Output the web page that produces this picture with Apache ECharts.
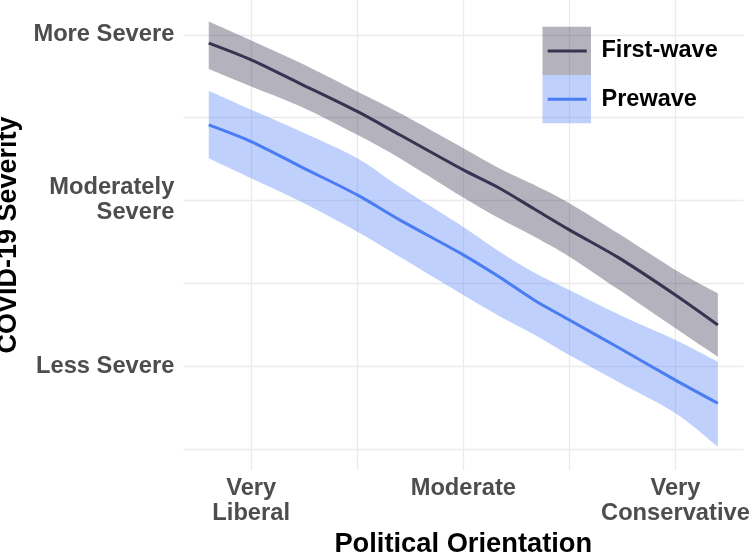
<!DOCTYPE html>
<html>
<head>
<meta charset="utf-8">
<script src="https://cdn.jsdelivr.net/npm/echarts@6/dist/echarts.min.js"></script>
<style>
  html, body { margin: 0; padding: 0; background: #ffffff; }
  #chart { width: 750px; height: 554px; }
</style>
</head>
<body>
<div id="chart"></div>
<script>
// ---- Data ----
const xValues = [0.4, 1.0, 1.7, 2.5, 3.1, 4.0, 4.5, 5.0, 5.5, 6.2, 7.0, 7.6];

const firstWaveMid   = [2.950, 2.849, 2.704, 2.537, 2.396, 2.184, 2.076, 1.949, 1.822, 1.653, 1.429, 1.248];
const firstWaveUpper = [3.080, 2.966, 2.829, 2.657, 2.527, 2.315, 2.196, 2.094, 1.983, 1.798, 1.580, 1.439];
const firstWaveLower = [2.793, 2.688, 2.567, 2.396, 2.255, 2.018, 1.894, 1.782, 1.660, 1.460, 1.228, 1.056];

const prewaveMid   = [2.456, 2.355, 2.204, 2.033, 1.882, 1.671, 1.540, 1.399, 1.278, 1.110, 0.915, 0.775];
const prewaveUpper = [2.662, 2.547, 2.416, 2.255, 2.082, 1.840, 1.695, 1.565, 1.459, 1.311, 1.157, 1.026];
const prewaveLower = [2.255, 2.134, 1.993, 1.811, 1.660, 1.429, 1.304, 1.190, 1.066, 0.902, 0.714, 0.512];

const xTickValues = [1, 4, 7];
const xTickLabels = ['Very\nLiberal', 'Moderate', 'Very\nConservative'];
const yTickValues = [1, 2, 3];
const yTickLabels = ['Less Severe', 'Moderately\nSevere', 'More Severe'];
const xGridValues = [1, 2.5, 4, 5.5, 7];
const yGridValues = [0.5, 1, 1.5, 2, 2.5, 3];

const seriesNames = ['First-wave', 'Prewave'];
const xAxisTitle = 'Political Orientation';
const yAxisTitle = 'COVID-19 Severity';

// ---- Styles ----
const FONT = '"Liberation Sans", Arial, Helvetica, sans-serif';
const greyLine = '#3a3350';
const greyBand = 'rgba(59,52,82,0.38)';
const blueLine = '#4a7cf3';
const blueBand = 'rgba(74,124,243,0.36)';
const gridColor = '#ebebeb';

const zip = (xs, ys) => xs.map((x, i) => [x, ys[i]]);

const chart = echarts.init(document.getElementById('chart'), null, { renderer: 'canvas' });

const gridMarkData = xGridValues.map(v => ({ xAxis: v })).concat(yGridValues.map(v => ({ yAxis: v })));

// Smooth (Catmull-Rom) path segment through pixel points, starting after the first point
function curveThrough(pts) {
  let d = '';
  const k = 0.5 / 3;
  for (let i = 0; i < pts.length - 1; i++) {
    const p0 = pts[Math.max(i - 1, 0)], p1 = pts[i], p2 = pts[i + 1], p3 = pts[Math.min(i + 2, pts.length - 1)];
    const c1x = p1[0] + (p2[0] - p0[0]) * k, c1y = p1[1] + (p2[1] - p0[1]) * k;
    const c2x = p2[0] - (p3[0] - p1[0]) * k, c2y = p2[1] - (p3[1] - p1[1]) * k;
    d += ' C' + c1x + ' ' + c1y + ' ' + c2x + ' ' + c2y + ' ' + p2[0] + ' ' + p2[1];
  }
  return d;
}

function ribbon(upper, lower, fill) {
  return function (params, api) {
    const top = xValues.map((x, i) => api.coord([x, upper[i]]));
    const bot = xValues.map((x, i) => api.coord([x, lower[i]])).reverse();
    const d = 'M' + top[0][0] + ' ' + top[0][1] + curveThrough(top) +
              ' L' + bot[0][0] + ' ' + bot[0][1] + curveThrough(bot) + ' Z';
    return {
      type: 'path',
      shape: { pathData: d, layout: 'center' },
      style: { fill: fill }
    };
  };
}

chart.setOption({
  animation: false,
  backgroundColor: '#ffffff',
  grid: { left: 183.3, right: 6.7, top: 0, bottom: 84, containLabel: false, outerBoundsMode: 'none' },
  xAxis: {
    type: 'value',
    min: 0.04, max: 7.96,
    axisLine: { show: false },
    axisTick: { show: false },
    splitLine: { show: false },
    axisLabel: {
      customValues: xTickValues,
      formatter: v => { const i = xTickValues.indexOf(v); return i >= 0 ? xTickLabels[i] : ''; },
      color: '#4d4d4d', fontFamily: FONT, fontWeight: 'bold', fontSize: 23.7, lineHeight: 25,
      margin: 6, align: 'center'
    },
    name: xAxisTitle,
    nameLocation: 'middle',
    nameGap: 59,
    nameTextStyle: { color: '#000000', fontFamily: FONT, fontWeight: 'bold', fontSize: 27.3 }
  },
  yAxis: {
    type: 'value',
    min: 0.372, max: 3.21,
    axisLine: { show: false },
    axisTick: { show: false },
    splitLine: { show: false },
    axisLabel: {
      customValues: yTickValues,
      formatter: v => { const i = yTickValues.indexOf(v); return i >= 0 ? yTickLabels[i] : ''; },
      color: '#4d4d4d', fontFamily: FONT, fontWeight: 'bold', fontSize: 23.7, lineHeight: 25,
      margin: 9, align: 'right'
    },
    name: yAxisTitle,
    nameLocation: 'middle',
    nameGap: 155,
    nameTextStyle: { color: '#000000', fontFamily: FONT, fontWeight: 'bold', fontSize: 27 }
  },
  series: [
    {
      name: seriesNames[0] + ' band', type: 'custom', silent: true, z: 1, clip: true,
      renderItem: ribbon(firstWaveUpper, firstWaveLower, greyBand),
      data: [[xValues[0], firstWaveUpper[0]]],
      markLine: {
        silent: true, symbol: ['none', 'none'], label: { show: false }, animation: false,
        lineStyle: { color: gridColor, width: 1.3, type: 'solid' },
        emphasis: { disabled: true },
        data: gridMarkData,
        z: 0
      }
    },
    {
      name: seriesNames[1] + ' band', type: 'custom', silent: true, z: 1, clip: true,
      renderItem: ribbon(prewaveUpper, prewaveLower, blueBand),
      data: [[xValues[0], prewaveUpper[0]]]
    },
    {
      name: seriesNames[0], type: 'line', z: 3, smooth: 0.3,
      data: zip(xValues, firstWaveMid), showSymbol: false, symbol: 'none',
      lineStyle: { color: greyLine, width: 3 }
    },
    {
      name: seriesNames[1], type: 'line', z: 3, smooth: 0.3,
      data: zip(xValues, prewaveMid), showSymbol: false, symbol: 'none',
      lineStyle: { color: blueLine, width: 3 }
    }
  ],
  graphic: [
    { type: 'rect', left: 542.5, top: 26.7, shape: { width: 48.5, height: 48.3 }, style: { fill: greyBand }, z: 10 },
    { type: 'rect', left: 542.5, top: 75, shape: { width: 48.5, height: 48.3 }, style: { fill: blueBand }, z: 10 },
    { type: 'line', shape: { x1: 547.7, y1: 51, x2: 586.7, y2: 51 }, style: { stroke: greyLine, lineWidth: 3 }, z: 11 },
    { type: 'line', shape: { x1: 547.7, y1: 99.3, x2: 586.7, y2: 99.3 }, style: { stroke: blueLine, lineWidth: 3 }, z: 11 },
    { type: 'text', left: 601.5, top: 39, style: { text: seriesNames[0], fill: '#000000', font: 'bold 23.5px ' + FONT }, z: 11 },
    { type: 'text', left: 601.5, top: 87.5, style: { text: seriesNames[1], fill: '#000000', font: 'bold 23.5px ' + FONT }, z: 11 }
  ]
});
</script>
</body>
</html>
